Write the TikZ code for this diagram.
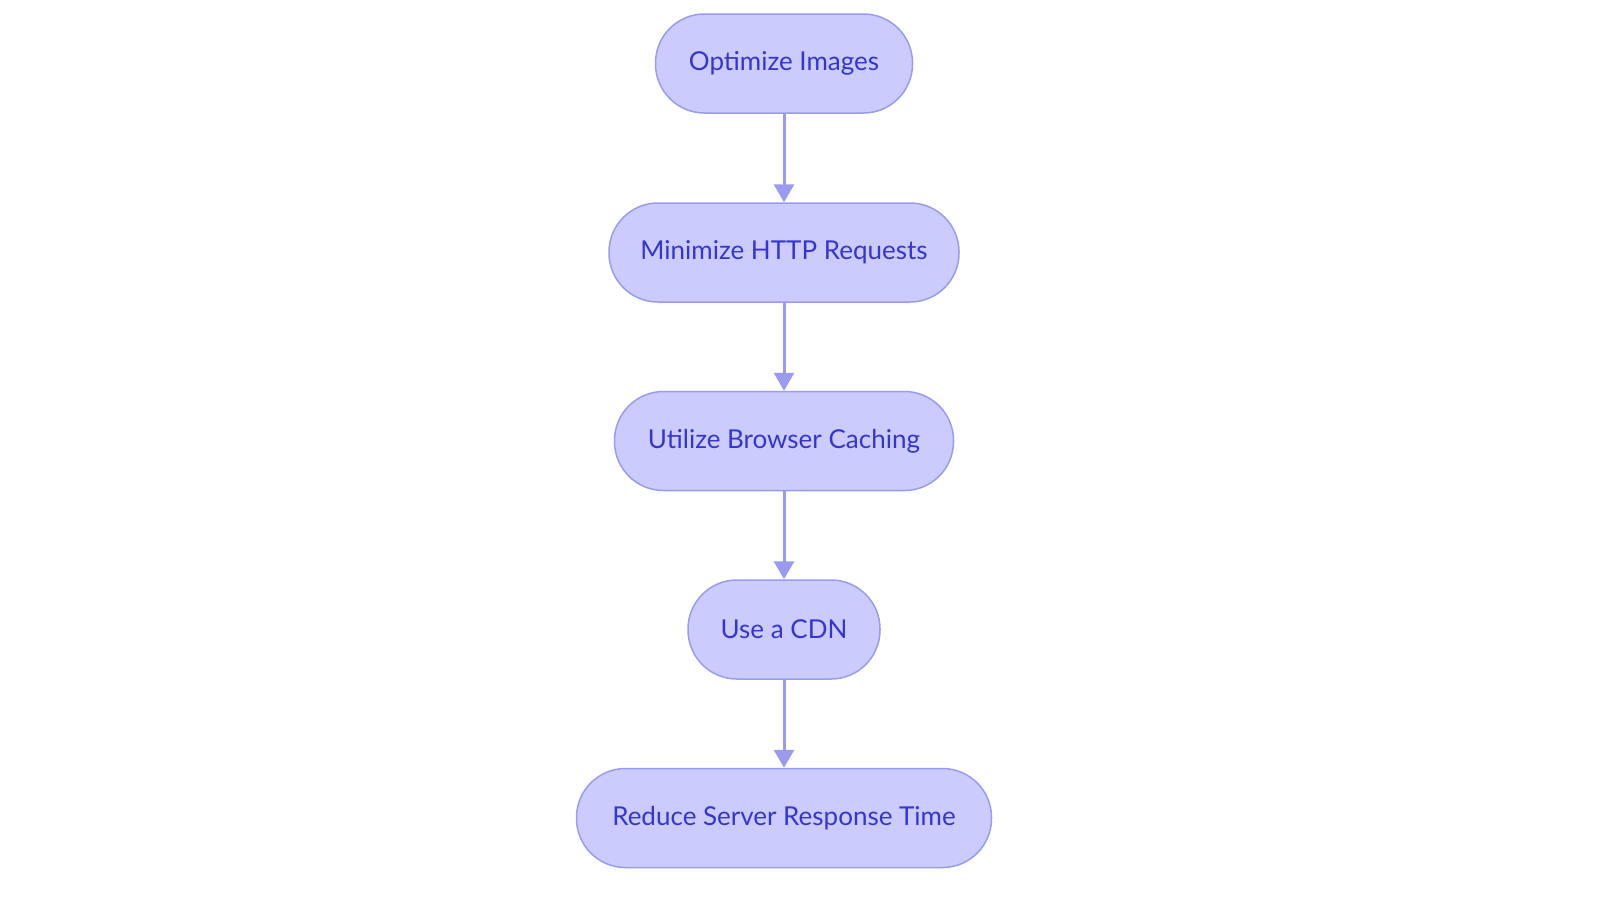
\documentclass[tikz,border=0pt]{standalone}
\usepackage{fontspec}
\setmainfont{Lato}
\usetikzlibrary{arrows.meta}
\definecolor{nfill}{HTML}{CBCCFD}
\definecolor{nline}{HTML}{9A9BEE}
\definecolor{ntext}{HTML}{3535CF}
\begin{document}
\begin{tikzpicture}[x=1pt,y=-1pt,
  box/.style={draw=nline,line width=1.5pt,fill=nfill,rounded corners=49pt,minimum height=99pt,inner sep=0pt,text=ntext,font=\fontsize{26}{30}\selectfont},
  arr/.style={draw=nline,line width=3pt,-{Triangle[width=20pt,length=18pt]}}]
\useasboundingbox (0,0) rectangle (1600,903);
\node[box,minimum width=257pt] (a) at (784,63.5) {Optimize Images};
\node[box,minimum width=350pt] (b) at (784,252.5) {Minimize HTTP Requests};
\node[box,minimum width=339pt] (c) at (784,441) {Utilize Browser Caching};
\node[box,minimum width=192pt] (d) at (784,629.5) {Use a CDN};
\node[box,minimum width=415pt] (e) at (784,818) {Reduce Server Response Time};
\draw[arr] (a) -- (b);
\draw[arr] (b) -- (c);
\draw[arr] (c) -- (d);
\draw[arr] (d) -- (e);
\end{tikzpicture}
\end{document}
